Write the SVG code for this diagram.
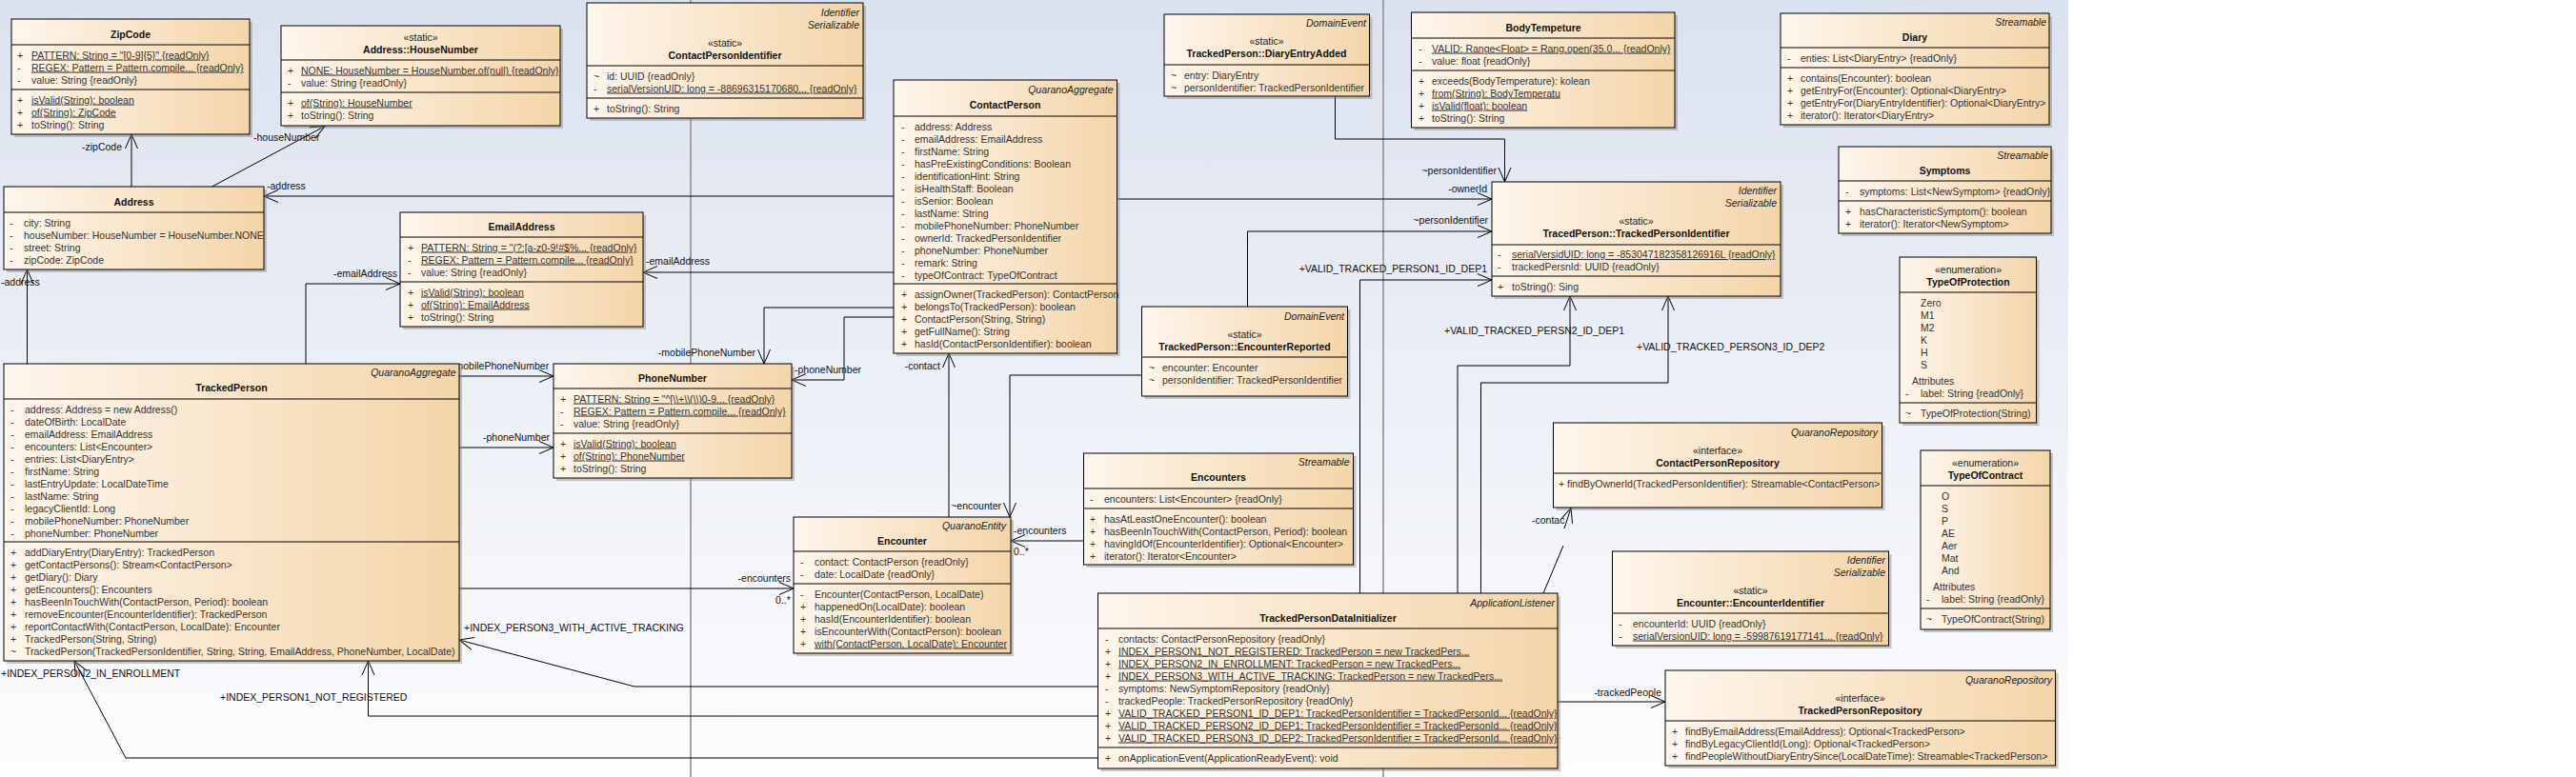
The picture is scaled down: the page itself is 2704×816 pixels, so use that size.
<svg xmlns="http://www.w3.org/2000/svg" width="2704" height="816" viewBox="0 0 2704 816">
<defs>
<linearGradient id="bg" x1="0" y1="0" x2="0" y2="1"><stop offset="0" stop-color="#dbe2ef"/><stop offset="1" stop-color="#fdfdfe"/></linearGradient>
<linearGradient id="bf" x1="0" y1="0" x2="1" y2="0"><stop offset="0" stop-color="#fef6ec"/><stop offset="1" stop-color="#f4d5a9"/></linearGradient>
<marker id="arr" markerUnits="userSpaceOnUse" markerWidth="20" markerHeight="20" viewBox="-17 -10 20 20" refX="0" refY="0" orient="auto" overflow="visible"><path d="M-15,-6.5 L0,0 L-15,6.5" fill="none" stroke="#000" stroke-width="1"/></marker>
</defs>
<style>
.t{font-family:"Liberation Sans",Arial,sans-serif;font-size:10.5px;fill:#333}
.b{font-weight:bold;fill:#111;text-anchor:middle}
.c{text-anchor:middle;fill:#222}
.i{font-style:italic;text-anchor:end;fill:#222}
.e{text-anchor:end}
.u{text-decoration:underline}
.lb{fill:#111}
.box{fill:url(#bf);stroke:#000;stroke-width:1}
.sh{fill:#888;opacity:.45}
.sep{stroke:#000;stroke-width:1}
.edge{fill:none;stroke:#000;stroke-width:1;marker-end:url(#arr)}
.pg{stroke:#a3a3a3;stroke-width:2}
</style>
<rect x="0" y="0" width="2704" height="816" fill="#fff"/>
<rect x="0" y="0" width="2171" height="816" fill="url(#bg)"/>
<line class="pg" x1="725" y1="0" x2="725" y2="816"/>
<line class="pg" x1="1452" y1="0" x2="1452" y2="816"/>

<g id="connectors" class="t">
<path class="edge" d="M138,196 V141"/><text class="lb e" x="128" y="158">-zipCode</text>
<path class="edge" d="M222.5,196 L341,132.5"/><text class="lb" x="266" y="148">-houseNumber</text>
<path class="edge" d="M938,206 H277"/><text class="lb" x="280" y="199">-address</text>
<path class="edge" d="M28.5,382 V283"/><text class="lb" x="1" y="300">-address</text>
<path class="edge" d="M321,382 V298 H420"/><text class="lb e" x="417" y="291">-emailAddress</text>
<path class="edge" d="M938,286 H675"/><text class="lb" x="678" y="278">-emailAddress</text>
<path class="edge" d="M938,323 H802 V382"/><text class="lb e" x="793" y="374">-mobilePhoneNumber</text>
<path class="edge" d="M938,333 H886 V399 H831"/><text class="lb" x="834" y="392">-phoneNumber</text>
<path class="edge" d="M482,395 H581"/><text class="lb" x="474" y="388">-mobilePhoneNumber</text>
<path class="edge" d="M482,470 H581"/><text class="lb" x="507" y="463">-phoneNumber</text>
<path class="edge" d="M482,618 H833"/><text class="lb e" x="830" y="611">-encounters</text><text class="lb" x="814" y="634">0..*</text>
<path class="edge" d="M1137.5,568 H1061"/><text class="lb" x="1064" y="561">-encounters</text><text class="lb" x="1064" y="583">0..*</text>
<path class="edge" d="M1198.5,394 H1060 V543"/><text class="lb e" x="1051" y="535">~encounter</text>
<path class="edge" d="M996,543 V371"/><text class="lb e" x="987" y="388">-contact</text>
<path class="edge" d="M1172.5,209 H1566"/><text class="lb e" x="1561" y="202">-ownerId</text>
<path class="edge" d="M1401.5,101 V146 H1579.5 V191"/><text class="lb e" x="1571" y="183">~personIdentifier</text>
<path class="edge" d="M1309.5,322 V243 H1566"/><text class="lb e" x="1562" y="235">~personIdentifier</text>
<path class="edge" d="M1427.5,623 V294 H1566"/><text class="lb e" x="1561" y="286">+VALID_TRACKED_PERSON1_ID_DEP1</text>
<path class="edge" d="M1530,623 V384 H1648 V311"/><text class="lb" x="1516" y="351">+VALID_TRACKED_PERSN2_ID_DEP1</text>
<path class="edge" d="M1554.5,623 V402 H1751 V311"/><text class="lb" x="1718" y="368">+VALID_TRACKED_PERSON3_ID_DEP2</text>
<path class="edge" d="M1620,623 L1641,573 M1642,555 L1649,533.5"/><text class="lb" x="1608" y="550">-contac</text>
<path class="edge" d="M1635,737 H1748"/><text class="lb e" x="1744" y="731">-trackedPeople</text>
<path class="edge" d="M1152.5,752 H386.5 V694"/><text class="lb" x="231" y="736">+INDEX_PERSON1_NOT_REGISTERED</text>
<path class="edge" d="M1152.5,796 H132 L78,694"/><text class="lb" x="1" y="711">+INDEX_PERSON2_IN_ENROLLMENT</text>
<path class="edge" d="M1152.5,721 H666 L482,672"/><text class="lb" x="487" y="663">+INDEX_PERSON3_WITH_ACTIVE_TRACKING</text>
</g>

<g id="ZipCode" class="t">
<rect class="sh" x="15" y="23" width="250" height="121"/><rect class="box" x="12" y="20" width="250" height="121"/>
<line class="sep" x1="12" y1="47" x2="262" y2="47"/><line class="sep" x1="12" y1="94" x2="262" y2="94"/>
<text class="b" x="137" y="40">ZipCode</text>
<text x="18" y="61.5">+</text><text class="u" x="33" y="61.5">PATTERN: String = "[0-9]{5}" {readOnly}</text>
<text x="18" y="74.5">-</text><text class="u" x="33" y="74.5">REGEX: Pattern = Pattern.compile... {readOnly}</text>
<text x="18" y="87.5">-</text><text x="33" y="87.5">value: String {readOnly}</text>
<text x="18" y="108.5">+</text><text class="u" x="33" y="108.5">isValid(String): boolean</text>
<text x="18" y="121.5">+</text><text class="u" x="33" y="121.5">of(String): ZipCode</text>
<text x="18" y="134.5">+</text><text x="33" y="134.5">toString(): String</text>
</g>

<g id="HouseNumber" class="t">
<rect class="sh" x="298" y="30" width="293" height="105"/><rect class="box" x="295" y="27" width="293" height="105"/>
<line class="sep" x1="295" y1="63" x2="588" y2="63"/><line class="sep" x1="295" y1="97" x2="588" y2="97"/>
<text class="c" x="441.5" y="43">«static»</text><text class="b" x="441.5" y="56">Address::HouseNumber</text>
<text x="302" y="77.5">+</text><text class="u" x="316" y="77.5">NONE: HouseNumber = HouseNumber.of(null) {readOnly}</text>
<text x="302" y="90.5">-</text><text x="316" y="90.5">value: String {readOnly}</text>
<text x="302" y="111.5">+</text><text class="u" x="316" y="111.5">of(String): HouseNumber</text>
<text x="302" y="124.5">+</text><text x="316" y="124.5">toString(): String</text>
</g>

<g id="Address" class="t">
<rect class="sh" x="7" y="199" width="273" height="87"/><rect class="box" x="4" y="196" width="273" height="87"/>
<line class="sep" x1="4" y1="223" x2="277" y2="223"/>
<text class="b" x="140.5" y="216">Address</text>
<text x="10" y="237.5">-</text><text x="25" y="237.5">city: String</text>
<text x="10" y="250.5">-</text><text x="25" y="250.5">houseNumber: HouseNumber = HouseNumber.NONE</text>
<text x="10" y="263.5">-</text><text x="25" y="263.5">street: String</text>
<text x="10" y="276.5">-</text><text x="25" y="276.5">zipCode: ZipCode</text>
</g>

<g id="ContactPersonIdentifier" class="t">
<rect class="sh" x="619" y="6" width="290" height="121"/><rect class="box" x="616" y="3" width="290" height="121"/>
<line class="sep" x1="616" y1="69" x2="906" y2="69"/><line class="sep" x1="616" y1="103" x2="906" y2="103"/>
<text class="i" x="902" y="17">Identifier</text><text class="i" x="902" y="30">Serializable</text>
<text class="c" x="761" y="49">«static»</text><text class="b" x="761" y="62">ContactPersonIdentifier</text>
<text x="623" y="83.5">~</text><text x="637" y="83.5">id: UUID {readOnly}</text>
<text x="623" y="96.5">-</text><text class="u" x="637" y="96.5">serialVersionUID: long = -88696315170680... {readOnly}</text>
<text x="623" y="117.5">+</text><text x="637" y="117.5">toString(): String</text>
</g>

<g id="EmailAddress" class="t">
<rect class="sh" x="423" y="226" width="255" height="120"/><rect class="box" x="420" y="223" width="255" height="120"/>
<line class="sep" x1="420" y1="249" x2="675" y2="249"/><line class="sep" x1="420" y1="296" x2="675" y2="296"/>
<text class="b" x="547.5" y="242">EmailAddress</text>
<text x="428" y="263.5">+</text><text class="u" x="442" y="263.5">PATTERN: String = "(?:[a-z0-9!#$%... {readOnly}</text>
<text x="428" y="276.5">-</text><text class="u" x="442" y="276.5">REGEX: Pattern = Pattern.compile... {readOnly}</text>
<text x="428" y="289.5">-</text><text x="442" y="289.5">value: String {readOnly}</text>
<text x="428" y="310.5">+</text><text class="u" x="442" y="310.5">isValid(String): boolean</text>
<text x="428" y="323.5">+</text><text class="u" x="442" y="323.5">of(String): EmailAddress</text>
<text x="428" y="336.5">+</text><text x="442" y="336.5">toString(): String</text>
</g>

<g id="ContactPerson" class="t">
<rect class="sh" x="941" y="87" width="234.5" height="287"/><rect class="box" x="938" y="84" width="234.5" height="287"/>
<line class="sep" x1="938" y1="122" x2="1172.5" y2="122"/><line class="sep" x1="938" y1="298" x2="1172.5" y2="298"/>
<text class="i" x="1168.5" y="98">QuaranoAggregate</text><text class="b" x="1055" y="114">ContactPerson</text>
<text x="946" y="136.5">-</text><text x="960" y="136.5">address: Address</text>
<text x="946" y="149.5">-</text><text x="960" y="149.5">emailAddress: EmailAddress</text>
<text x="946" y="162.5">-</text><text x="960" y="162.5">firstName: String</text>
<text x="946" y="175.5">-</text><text x="960" y="175.5">hasPreExistingConditions: Boolean</text>
<text x="946" y="188.5">-</text><text x="960" y="188.5">identificationHint: String</text>
<text x="946" y="201.5">-</text><text x="960" y="201.5">isHealthStaff: Boolean</text>
<text x="946" y="214.5">-</text><text x="960" y="214.5">isSenior: Boolean</text>
<text x="946" y="227.5">-</text><text x="960" y="227.5">lastName: String</text>
<text x="946" y="240.5">-</text><text x="960" y="240.5">mobilePhoneNumber: PhoneNumber</text>
<text x="946" y="253.5">-</text><text x="960" y="253.5">ownerId: TrackedPersonIdentifier</text>
<text x="946" y="266.5">-</text><text x="960" y="266.5">phoneNumber: PhoneNumber</text>
<text x="946" y="279.5">-</text><text x="960" y="279.5">remark: String</text>
<text x="946" y="292.5">-</text><text x="960" y="292.5">typeOfContract: TypeOfContract</text>
<text x="946" y="312.5">+</text><text x="960" y="312.5">assignOwner(TrackedPerson): ContactPerson</text>
<text x="946" y="325.5">+</text><text x="960" y="325.5">belongsTo(TrackedPerson): boolean</text>
<text x="946" y="338.5">+</text><text x="960" y="338.5">ContactPerson(String, String)</text>
<text x="946" y="351.5">+</text><text x="960" y="351.5">getFullName(): String</text>
<text x="946" y="364.5">+</text><text x="960" y="364.5">hasId(ContactPersonIdentifier): boolean</text>
</g>

<g id="DiaryEntryAdded" class="t">
<rect class="sh" x="1225" y="18" width="215.5" height="86"/><rect class="box" x="1222" y="15" width="215.5" height="86"/>
<line class="sep" x1="1222" y1="68" x2="1437.5" y2="68"/>
<text class="i" x="1434" y="28">DomainEvent</text>
<text class="c" x="1329.5" y="47">«static»</text><text class="b" x="1329.5" y="60">TrackedPerson::DiaryEntryAdded</text>
<text x="1229" y="82.5">~</text><text x="1243" y="82.5">entry: DiaryEntry</text>
<text x="1229" y="95.5">~</text><text x="1243" y="95.5">personIdentifier: TrackedPersonIdentifier</text>
</g>

<g id="EncounterReported" class="t">
<rect class="sh" x="1201.5" y="325" width="216" height="94"/><rect class="box" x="1198.5" y="322" width="216" height="94"/>
<line class="sep" x1="1198.5" y1="375" x2="1414.5" y2="375"/>
<text class="i" x="1411" y="336">DomainEvent</text>
<text class="c" x="1306.5" y="355">«static»</text><text class="b" x="1306.5" y="368">TrackedPerson::EncounterReported</text>
<text x="1206" y="389.5">~</text><text x="1220" y="389.5">encounter: Encounter</text>
<text x="1206" y="402.5">~</text><text x="1220" y="402.5">personIdentifier: TrackedPersonIdentifier</text>
</g>

<g id="PhoneNumber" class="t">
<rect class="sh" x="584" y="385" width="250" height="120"/><rect class="box" x="581" y="382" width="250" height="120"/>
<line class="sep" x1="581" y1="408" x2="831" y2="408"/><line class="sep" x1="581" y1="455" x2="831" y2="455"/>
<text class="b" x="706" y="401">PhoneNumber</text>
<text x="588" y="422.5">+</text><text class="u" x="602" y="422.5">PATTERN: String = "^[\\+\\(\\)0-9... {readOnly}</text>
<text x="588" y="435.5">-</text><text class="u" x="602" y="435.5">REGEX: Pattern = Pattern.compile... {readOnly}</text>
<text x="588" y="448.5">-</text><text x="602" y="448.5">value: String {readOnly}</text>
<text x="588" y="469.5">+</text><text class="u" x="602" y="469.5">isValid(String): boolean</text>
<text x="588" y="482.5">+</text><text class="u" x="602" y="482.5">of(String): PhoneNumber</text>
<text x="588" y="495.5">+</text><text x="602" y="495.5">toString(): String</text>
</g>

<g id="TrackedPerson" class="t">
<rect class="sh" x="7" y="385" width="478" height="312"/><rect class="box" x="4" y="382" width="478" height="312"/>
<line class="sep" x1="4" y1="419" x2="482" y2="419"/><line class="sep" x1="4" y1="569" x2="482" y2="569"/>
<text class="i" x="478.5" y="395">QuaranoAggregate</text><text class="b" x="243" y="411">TrackedPerson</text>
<text x="11" y="433.5">-</text><text x="26" y="433.5">address: Address = new Address()</text>
<text x="11" y="446.5">-</text><text x="26" y="446.5">dateOfBirth: LocalDate</text>
<text x="11" y="459.5">-</text><text x="26" y="459.5">emailAddress: EmailAddress</text>
<text x="11" y="472.5">-</text><text x="26" y="472.5">encounters: List&lt;Encounter&gt;</text>
<text x="11" y="485.5">-</text><text x="26" y="485.5">entries: List&lt;DiaryEntry&gt;</text>
<text x="11" y="498.5">-</text><text x="26" y="498.5">firstName: String</text>
<text x="11" y="511.5">-</text><text x="26" y="511.5">lastEntryUpdate: LocalDateTime</text>
<text x="11" y="524.5">-</text><text x="26" y="524.5">lastName: String</text>
<text x="11" y="537.5">-</text><text x="26" y="537.5">legacyClientId: Long</text>
<text x="11" y="550.5">-</text><text x="26" y="550.5">mobilePhoneNumber: PhoneNumber</text>
<text x="11" y="563.5">-</text><text x="26" y="563.5">phoneNumber: PhoneNumber</text>
<text x="11" y="583.5">+</text><text x="26" y="583.5">addDiaryEntry(DiaryEntry): TrackedPerson</text>
<text x="11" y="596.5">+</text><text x="26" y="596.5">getContactPersons(): Stream&lt;ContactPerson&gt;</text>
<text x="11" y="609.5">+</text><text x="26" y="609.5">getDiary(): Diary</text>
<text x="11" y="622.5">+</text><text x="26" y="622.5">getEncounters(): Encounters</text>
<text x="11" y="635.5">+</text><text x="26" y="635.5">hasBeenInTouchWith(ContactPerson, Period): boolean</text>
<text x="11" y="648.5">+</text><text x="26" y="648.5">removeEncounter(EncounterIdentifier): TrackedPerson</text>
<text x="11" y="661.5">+</text><text x="26" y="661.5">reportContactWith(ContactPerson, LocalDate): Encounter</text>
<text x="11" y="674.5">+</text><text x="26" y="674.5">TrackedPerson(String, String)</text>
<text x="11" y="687.5">~</text><text x="26" y="687.5">TrackedPerson(TrackedPersonIdentifier, String, String, EmailAddress, PhoneNumber, LocalDate)</text>
</g>

<g id="Encounter" class="t">
<rect class="sh" x="836" y="546" width="228" height="143"/><rect class="box" x="833" y="543" width="228" height="143"/>
<line class="sep" x1="833" y1="579" x2="1061" y2="579"/><line class="sep" x1="833" y1="613" x2="1061" y2="613"/>
<text class="i" x="1056" y="556">QuaranoEntity</text><text class="b" x="947" y="572">Encounter</text>
<text x="840" y="593.5">-</text><text x="855" y="593.5">contact: ContactPerson {readOnly}</text>
<text x="840" y="606.5">-</text><text x="855" y="606.5">date: LocalDate {readOnly}</text>
<text x="840" y="627.5">-</text><text x="855" y="627.5">Encounter(ContactPerson, LocalDate)</text>
<text x="840" y="640.5">+</text><text x="855" y="640.5">happenedOn(LocalDate): boolean</text>
<text x="840" y="653.5">+</text><text x="855" y="653.5">hasId(EncounterIdentifier): boolean</text>
<text x="840" y="666.5">+</text><text x="855" y="666.5">isEncounterWith(ContactPerson): boolean</text>
<text x="840" y="679.5">+</text><text class="u" x="855" y="679.5">with(ContactPerson, LocalDate): Encounter</text>
</g>

<g id="Encounters" class="t">
<rect class="sh" x="1140.5" y="479" width="283" height="117"/><rect class="box" x="1137.5" y="476" width="283" height="117"/>
<line class="sep" x1="1137.5" y1="513" x2="1420.5" y2="513"/><line class="sep" x1="1137.5" y1="534" x2="1420.5" y2="534"/>
<text class="i" x="1416.5" y="488.5">Streamable</text><text class="b" x="1279" y="504.5">Encounters</text>
<text x="1144" y="527.5">-</text><text x="1159" y="527.5">encounters: List&lt;Encounter&gt; {readOnly}</text>
<text x="1144" y="548.5">+</text><text x="1159" y="548.5">hasAtLeastOneEncounter(): boolean</text>
<text x="1144" y="561.5">+</text><text x="1159" y="561.5">hasBeenInTouchWith(ContactPerson, Period): boolean</text>
<text x="1144" y="574.5">+</text><text x="1159" y="574.5">havingIdOf(EncounterIdentifier): Optional&lt;Encounter&gt;</text>
<text x="1144" y="587.5">+</text><text x="1159" y="587.5">iterator(): Iterator&lt;Encounter&gt;</text>
</g>

<g id="TrackedPersonDataInitializer" class="t">
<rect class="sh" x="1155.5" y="626" width="482.5" height="184"/><rect class="box" x="1152.5" y="623" width="482.5" height="184"/>
<line class="sep" x1="1152.5" y1="660" x2="1635" y2="660"/><line class="sep" x1="1152.5" y1="785" x2="1635" y2="785"/>
<text class="i" x="1632" y="636.5">ApplicationListener</text><text class="b" x="1394" y="652.5">TrackedPersonDataInitializer</text>
<text x="1160" y="674.5">-</text><text x="1174" y="674.5">contacts: ContactPersonRepository {readOnly}</text>
<text x="1160" y="687.5">+</text><text class="u" x="1174" y="687.5">INDEX_PERSON1_NOT_REGISTERED: TrackedPerson = new TrackedPers...</text>
<text x="1160" y="700.5">+</text><text class="u" x="1174" y="700.5">INDEX_PERSON2_IN_ENROLLMENT: TrackedPerson = new TrackedPers...</text>
<text x="1160" y="713.5">+</text><text class="u" x="1174" y="713.5">INDEX_PERSON3_WITH_ACTIVE_TRACKING: TrackedPerson = new TrackedPers...</text>
<text x="1160" y="726.5">-</text><text x="1174" y="726.5">symptoms: NewSymptomRepository {readOnly}</text>
<text x="1160" y="739.5">-</text><text x="1174" y="739.5">trackedPeople: TrackedPersonRepository {readOnly}</text>
<text x="1160" y="752.5">+</text><text class="u" x="1174" y="752.5">VALID_TRACKED_PERSON1_ID_DEP1: TrackedPersonIdentifier = TrackedPersonId... {readOnly}</text>
<text x="1160" y="765.5">+</text><text class="u" x="1174" y="765.5">VALID_TRACKED_PERSON2_ID_DEP1: TrackedPersonIdentifier = TrackedPersonId... {readOnly}</text>
<text x="1160" y="778.5">+</text><text class="u" x="1174" y="778.5">VALID_TRACKED_PERSON3_ID_DEP2: TrackedPersonIdentifier = TrackedPersonId... {readOnly}</text>
<text x="1160" y="799.5">+</text><text x="1174" y="799.5">onApplicationEvent(ApplicationReadyEvent): void</text>
</g>

<g id="BodyTempeture" class="t">
<rect class="sh" x="1484.5" y="16" width="276.5" height="121"/><rect class="box" x="1481.5" y="13" width="276.5" height="121"/>
<line class="sep" x1="1481.5" y1="40" x2="1758" y2="40"/><line class="sep" x1="1481.5" y1="74" x2="1758" y2="74"/>
<text class="b" x="1620" y="32.5">BodyTempeture</text>
<text x="1489" y="54.5">-</text><text class="u" x="1503" y="54.5">VALID: Range&lt;Float&gt; = Rang.open(35.0... {readOnly}</text>
<text x="1489" y="67.5">-</text><text x="1503" y="67.5">value: float {readOnly}</text>
<text x="1489" y="88.5">+</text><text x="1503" y="88.5">exceeds(BodyTemperature): kolean</text>
<text x="1489" y="101.5">+</text><text class="u" x="1503" y="101.5">from(String): BodyTemperatu</text>
<text x="1489" y="114.5">+</text><text class="u" x="1503" y="114.5">isValid(float): boolean</text>
<text x="1489" y="127.5">+</text><text x="1503" y="127.5">toString(): String</text>
</g>

<g id="TrackedPersonIdentifier" class="t">
<rect class="sh" x="1569" y="194" width="303" height="120"/><rect class="box" x="1566" y="191" width="303" height="120"/>
<line class="sep" x1="1566" y1="257" x2="1869" y2="257"/><line class="sep" x1="1566" y1="290" x2="1869" y2="290"/>
<text class="i" x="1865" y="203.5">Identifier</text><text class="i" x="1865" y="216.5">Serializable</text>
<text class="c" x="1717.5" y="235.5">«static»</text><text class="b" x="1717.5" y="248.5">TracedPerson::TrackedPersonIdentifier</text>
<text x="1572" y="271">-</text><text class="u" x="1587" y="271">serialVersidUID: long = -853047182358126916L {readOnly}</text>
<text x="1572" y="284">-</text><text x="1587" y="284">trackedPersnId: UUID {readOnly}</text>
<text x="1572" y="304.5">+</text><text x="1587" y="304.5">toString(): Sing</text>
</g>

<g id="Diary" class="t">
<rect class="sh" x="1872" y="17" width="282" height="117"/><rect class="box" x="1869" y="14" width="282" height="117"/>
<line class="sep" x1="1869" y1="50" x2="2151" y2="50"/><line class="sep" x1="1869" y1="71" x2="2151" y2="71"/>
<text class="i" x="2148" y="26.5">Streamable</text><text class="b" x="2010" y="42.5">Diary</text>
<text x="1876" y="64.5">-</text><text x="1890" y="64.5">enties: List&lt;DiaryEntry&gt; {readOnly}</text>
<text x="1876" y="85.5">+</text><text x="1890" y="85.5">contains(Encounter): boolean</text>
<text x="1876" y="98.5">+</text><text x="1890" y="98.5">getEntryFor(Encounter): Optional&lt;DiaryEntry&gt;</text>
<text x="1876" y="111.5">+</text><text x="1890" y="111.5">getEntryFor(DiaryEntryIdentifier): Optional&lt;DiaryEntry&gt;</text>
<text x="1876" y="124.5">+</text><text x="1890" y="124.5">iterator(): Iterator&lt;DiaryEntry&gt;</text>
</g>

<g id="Symptoms" class="t">
<rect class="sh" x="1933" y="157" width="223" height="91"/><rect class="box" x="1930" y="154" width="223" height="91"/>
<line class="sep" x1="1930" y1="190" x2="2153" y2="190"/><line class="sep" x1="1930" y1="211" x2="2153" y2="211"/>
<text class="i" x="2150" y="166.5">Streamable</text><text class="b" x="2041.5" y="182.5">Symptoms</text>
<text x="1937" y="204.5">-</text><text x="1952" y="204.5">symptoms: List&lt;NewSymptom&gt; {readOnly}</text>
<text x="1937" y="225.5">+</text><text x="1952" y="225.5">hasCharacteristicSymptom(): boolean</text>
<text x="1937" y="238.5">+</text><text x="1952" y="238.5">iterator(): Iterator&lt;NewSymptom&gt;</text>
</g>

<g id="TypeOfProtection" class="t">
<rect class="sh" x="1997" y="273" width="143.5" height="174"/><rect class="box" x="1994" y="270" width="143.5" height="174"/>
<line class="sep" x1="1994" y1="307" x2="2137.5" y2="307"/><line class="sep" x1="1994" y1="423" x2="2137.5" y2="423"/>
<text class="c" x="2066" y="287">«enumeration»</text><text class="b" x="2066" y="300">TypeOfProtection</text>
<text x="2016" y="321.5">Zero</text><text x="2016" y="334.5">M1</text><text x="2016" y="347.5">M2</text>
<text x="2016" y="360.5">K</text><text x="2016" y="373.5">H</text><text x="2016" y="386.5">S</text>
<text x="2007" y="403.5">Attributes</text>
<text x="2000" y="416.5">-</text><text x="2016" y="416.5">label: String {readOnly}</text>
<text x="2000" y="437.5">~</text><text x="2016" y="437.5">TypeOfProtection(String)</text>
</g>

<g id="TypeOfContract" class="t">
<rect class="sh" x="2019" y="476" width="136" height="188"/><rect class="box" x="2016" y="473" width="136" height="188"/>
<line class="sep" x1="2016" y1="510" x2="2152" y2="510"/><line class="sep" x1="2016" y1="639" x2="2152" y2="639"/>
<text class="c" x="2084" y="490">«enumeration»</text><text class="b" x="2084" y="503">TypeOfContract</text>
<text x="2038" y="524.5">O</text><text x="2038" y="537.5">S</text><text x="2038" y="550.5">P</text>
<text x="2038" y="563.5">AE</text><text x="2038" y="576.5">Aer</text><text x="2038" y="589.5">Mat</text><text x="2038" y="602.5">And</text>
<text x="2029" y="619.5">Attributes</text>
<text x="2022" y="632.5">-</text><text x="2038" y="632.5">label: String {readOnly}</text>
<text x="2022" y="653.5">~</text><text x="2038" y="653.5">TypeOfContract(String)</text>
</g>

<g id="ContactPersonRepository" class="t">
<rect class="sh" x="1633.5" y="447" width="345" height="89"/><rect class="box" x="1630.5" y="444" width="345" height="89"/>
<line class="sep" x1="1630.5" y1="497" x2="1975.5" y2="497"/>
<text class="i" x="1971" y="457.5">QuaranoRepository</text>
<text class="c" x="1803" y="477">«interface»</text><text class="b" x="1803" y="489.5">ContactPersonRepository</text>
<text x="1636" y="511.5">+ findByOwnerId(TrackedPersonIdentifier): Streamable&lt;ContactPerson&gt;</text>
</g>

<g id="EncounterIdentifier" class="t">
<rect class="sh" x="1695.5" y="582" width="290" height="99"/><rect class="box" x="1692.5" y="579" width="290" height="99"/>
<line class="sep" x1="1692.5" y1="644" x2="1982.5" y2="644"/>
<text class="i" x="1979" y="591.5">Identifier</text><text class="i" x="1979" y="604.5">Serializable</text>
<text class="c" x="1837.5" y="624">«static»</text><text class="b" x="1837.5" y="636.5">Encounter::EncounterIdentifier</text>
<text x="1699" y="658.5">-</text><text x="1714" y="658.5">encounterId: UUID {readOnly}</text>
<text x="1699" y="671.5">-</text><text class="u" x="1714" y="671.5">serialVersionUID: long = -59987619177141... {readOnly}</text>
</g>

<g id="TrackedPersonRepository" class="t">
<rect class="sh" x="1751" y="707" width="409.5" height="100"/><rect class="box" x="1748" y="704" width="409.5" height="100"/>
<line class="sep" x1="1748" y1="757" x2="2157.5" y2="757"/>
<text class="i" x="2154" y="717.5">QuaranoRepository</text>
<text class="c" x="1952.5" y="736.5">«interface»</text><text class="b" x="1952.5" y="749.5">TrackedPersonRepository</text>
<text x="1755" y="771.5">+</text><text x="1769" y="771.5">findByEmailAddress(EmailAddress): Optional&lt;TrackedPerson&gt;</text>
<text x="1755" y="784.5">+</text><text x="1769" y="784.5">findByLegacyClientId(Long): Optional&lt;TrackedPerson&gt;</text>
<text x="1755" y="797.5">+</text><text x="1769" y="797.5">findPeopleWithoutDiaryEntrySince(LocalDateTime): Streamable&lt;TrackedPerson&gt;</text>
</g>
</svg>
